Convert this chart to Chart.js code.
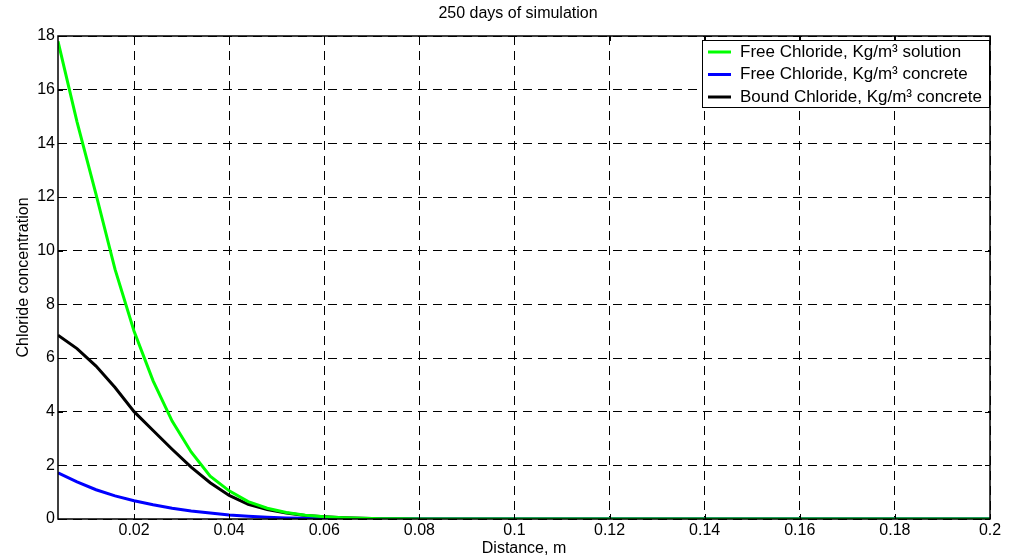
<!DOCTYPE html>
<html>
<head>
<meta charset="utf-8">
<script src="https://cdn.jsdelivr.net/npm/chart.js@4"></script>
<style>
  body { margin: 0; background: #fff; }
  #wrap { width: 1014px; height: 558px; }
</style>
</head>
<body>
<div id="wrap"><canvas id="chart"></canvas></div>
<script>
// distance (m)
const distance = [0.004, 0.008, 0.012, 0.016, 0.020, 0.024, 0.028, 0.032, 0.036, 0.040,
  0.044, 0.048, 0.052, 0.056, 0.060, 0.064, 0.068, 0.072, 0.076, 0.080,
  0.084, 0.088, 0.092, 0.096, 0.100, 0.104, 0.108, 0.112, 0.116, 0.120,
  0.124, 0.128, 0.132, 0.136, 0.140, 0.144, 0.148, 0.152, 0.156, 0.160,
  0.164, 0.168, 0.172, 0.176, 0.180, 0.184, 0.188, 0.192, 0.196, 0.200]

const freeSolution = [17.8, 14.8, 12.1, 9.3, 7.0, 5.15, 3.65, 2.5, 1.6, 1.05,
  0.65, 0.4, 0.24, 0.14, 0.08, 0.045, 0.025, 0.012, 0.006, 0,
  0, 0, 0, 0, 0, 0, 0, 0, 0, 0,
  0, 0, 0, 0, 0, 0, 0, 0, 0, 0,
  0, 0, 0, 0, 0, 0, 0, 0, 0, 0]

const freeConcrete = [1.72, 1.38, 1.09, 0.86, 0.68, 0.53, 0.4, 0.3, 0.22, 0.15,
  0.1, 0.065, 0.04, 0.025, 0.015, 0.008, 0.004, 0.002, 0, 0,
  0, 0, 0, 0, 0, 0, 0, 0, 0, 0,
  0, 0, 0, 0, 0, 0, 0, 0, 0, 0,
  0, 0, 0, 0, 0, 0, 0, 0, 0, 0]

const boundConcrete = [6.85, 6.35, 5.7, 4.9, 4.0, 3.3, 2.6, 1.93, 1.35, 0.88,
  0.55, 0.35, 0.22, 0.13, 0.08, 0.045, 0.025, 0.012, 0.006, 0.003,
  0, 0, 0, 0, 0, 0, 0, 0, 0, 0,
  0, 0, 0, 0, 0, 0, 0, 0, 0, 0,
  0, 0, 0, 0, 0, 0, 0, 0, 0, 0]

const xTicks = [0.02, 0.04, 0.06, 0.08, 0.1, 0.12, 0.14, 0.16, 0.18, 0.2]
const yTicks = [0, 2, 4, 6, 8, 10, 12, 14, 16, 18]
const chartTitle = "250 days of simulation"

const FONT = "'Liberation Sans', Arial, sans-serif"

const pts = (ys) => distance.map((x, i) => ({ x: x, y: ys[i] }))

// title, frame + inside ticks + legend box, drawn like matlab does
const framePlugin = {
  id: "frame",
  afterDraw(chart) {
    const c = chart.ctx
    const a = chart.chartArea
    const xs = chart.scales.x
    const ys = chart.scales.y
    c.save()
    c.fillStyle = "#000"
    c.font = "16px " + FONT
    c.textAlign = "center"
    c.textBaseline = "middle"
    c.fillText(chartTitle, 518, 14)
    c.textAlign = "left"

    c.strokeStyle = "#000"
    c.lineWidth = 1.5
    c.setLineDash([])
    c.strokeRect(a.left, a.top, a.right - a.left, a.bottom - a.top)
    c.lineWidth = 1
    c.beginPath()
    xTicks.forEach(v => {
      const px = Math.round(xs.getPixelForValue(v)) + 0.5
      c.moveTo(px, a.bottom); c.lineTo(px, a.bottom - 5)
      c.moveTo(px, a.top); c.lineTo(px, a.top + 5)
    })
    yTicks.forEach(v => {
      const py = Math.round(ys.getPixelForValue(v)) + 0.5
      c.moveTo(a.left, py); c.lineTo(a.left + 5, py)
      c.moveTo(a.right, py); c.lineTo(a.right - 5, py)
    })
    c.stroke()

    // legend
    const w = 287, h = 67
    const lx = a.right - w - 1, ly = a.top + 4
    c.fillStyle = "#fff"
    c.fillRect(lx, ly, w, h)
    c.strokeStyle = "#000"
    c.lineWidth = 1
    c.strokeRect(lx + 0.5, ly + 0.5, w, h)
    c.font = "17px " + FONT
    chart.data.datasets.forEach((ds, i) => {
      const y = ly + 12 + i * 22.5
      c.strokeStyle = ds.borderColor
      c.lineWidth = 3
      c.beginPath()
      c.moveTo(lx + 6, y); c.lineTo(lx + 29, y)
      c.stroke()
      c.fillStyle = "#000"
      c.fillText(ds.label, lx + 38, y)
    })
    c.restore()
  }
}

const ctx = document.querySelector("#chart").getContext("2d")

new Chart(ctx, {
  type: "line",
  data: {
    datasets: [
      { label: "Free Chloride, Kg/m³ solution", data: pts(freeSolution), borderColor: "#00ff00", borderWidth: 3 },
      { label: "Free Chloride, Kg/m³ concrete", data: pts(freeConcrete), borderColor: "#0000ff", borderWidth: 3 },
      { label: "Bound Chloride, Kg/m³ concrete", data: pts(boundConcrete), borderColor: "#000000", borderWidth: 3 }
    ]
  },
  options: {
    responsive: true,
    maintainAspectRatio: false,
    animation: false,
    elements: { point: { radius: 0 }, line: { tension: 0 } },
    layout: { padding: { left: 0, right: 24, top: 36, bottom: 0 } },
    plugins: {
      legend: { display: false },
      tooltip: { enabled: false },
      title: { display: false }
    },
    scales: {
      x: {
        type: "linear",
        min: 0.004,
        max: 0.2,
        afterBuildTicks: s => { s.ticks = xTicks.map(v => ({ value: v })) },
        afterFit: s => { s.height = 39 },
        ticks: { color: "#000", font: { family: FONT, size: 16 }, padding: 2, maxRotation: 0,
          callback: v => String(v) },
        grid: { color: "#000", lineWidth: 1, drawTicks: false },
        border: { display: false, dash: [9, 6] },
        title: { display: true, text: "Distance, m", color: "#000", font: { family: FONT, size: 16 }, padding: 0 }
      },
      y: {
        min: 0,
        max: 18,
        afterBuildTicks: s => { s.ticks = yTicks.map(v => ({ value: v })) },
        afterFit: s => { s.width = 58 },
        ticks: { color: "#000", font: { family: FONT, size: 16 }, padding: 3 },
        grid: { color: "#000", lineWidth: 1, drawTicks: false },
        border: { display: false, dash: [9, 6] },
        title: { display: true, text: "Chloride concentration", color: "#000", font: { family: FONT, size: 16 }, padding: { top: 14, bottom: 0 } }
      }
    }
  },
  plugins: [framePlugin]
})
</script>
</body>
</html>
